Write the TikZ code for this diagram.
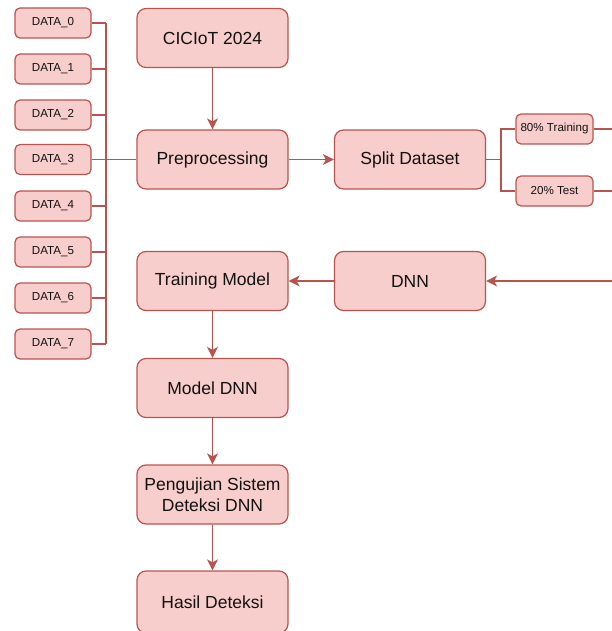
\documentclass[tikz,border=0pt]{standalone}
\usepackage{fontspec}
\setmainfont{Liberation Sans}
\usetikzlibrary{arrows.meta}
\definecolor{boxfill}{HTML}{F8CECC}
\definecolor{boxline}{HTML}{B85450}
\definecolor{txt}{HTML}{111111}
\begin{document}
\begin{tikzpicture}[x=1pt,y=-1pt,
  mainbox/.style={draw=boxline, fill=boxfill, line width=1.2pt, rounded corners=9pt,
    minimum width=151pt, minimum height=59pt, text=txt, align=center,
    font=\fontsize{17.5}{21}\selectfont, inner sep=2pt},
  smallbox/.style={draw=boxline, fill=boxfill, line width=1.2pt, rounded corners=5pt,
    minimum width=76pt, minimum height=30pt, text=txt,
    font=\fontsize{11.6}{14}\selectfont, inner sep=1pt},
  link/.style={draw=boxline, line width=1.3pt},
  arr/.style={link, -{Stealth[length=11pt,width=11pt,inset=3pt]}}]
\useasboundingbox (0,0) rectangle (612,631);

\node[mainbox] (cic) at (212.5,38) {CICIoT 2024};
\node[mainbox] (pre) at (212.5,159.5) {Preprocessing};
\node[mainbox] (split) at (410,159.5) {Split Dataset};
\node[mainbox] (train) at (212.5,281) {Training Model};
\node[mainbox] (dnn) at (410,281) {DNN};
\node[mainbox] (model) at (212.5,388) {Model DNN};
\node[mainbox] (peng) at (212.5,494.5) {Pengujian Sistem\\Deteksi DNN};
\node[mainbox, minimum height=62pt] (hasil) at (212.5,602) {Hasil Deteksi};

\foreach \i/\y in {0/23,1/69,2/115,3/159.5,4/206,5/252,6/298,7/344}{
  \node[smallbox] (d\i) at (53,\y) {DATA\_\i};
}
\coordinate (bustop) at (106,23);
\coordinate (busbot) at (106,344);
\draw[link] (bustop) -- (busbot);
\foreach \i in {0,1,2,4,5,6,7}{
  \draw[link] (d\i.east) -- (d\i.east -| bustop);
}
\draw[link] (d3.east) -- (pre.west);

\node[smallbox, minimum width=77pt] (t80) at (554.5,129) {80\% Training};
\node[smallbox, minimum width=77pt] (t20) at (554.5,191) {20\% Test};
\coordinate (br) at (501,159.5);
\draw[link] (split.east) -- (br);
\draw[link] (t80.west) -| (br) |- (t20.west);
\coordinate (e80) at (612,129);
\coordinate (e20) at (612,191);
\coordinate (edn) at (612,281);
\draw[link] (t80.east) -- (e80);
\draw[link] (t20.east) -- (e20);
\draw[arr] (edn) -- (dnn.east);

\draw[arr] (cic) -- (pre);
\draw[arr] (pre) -- (split);
\draw[arr] (dnn) -- (train);
\draw[arr] (train) -- (model);
\draw[arr] (model) -- (peng);
\draw[arr] (peng) -- (hasil);
\end{tikzpicture}
\end{document}
